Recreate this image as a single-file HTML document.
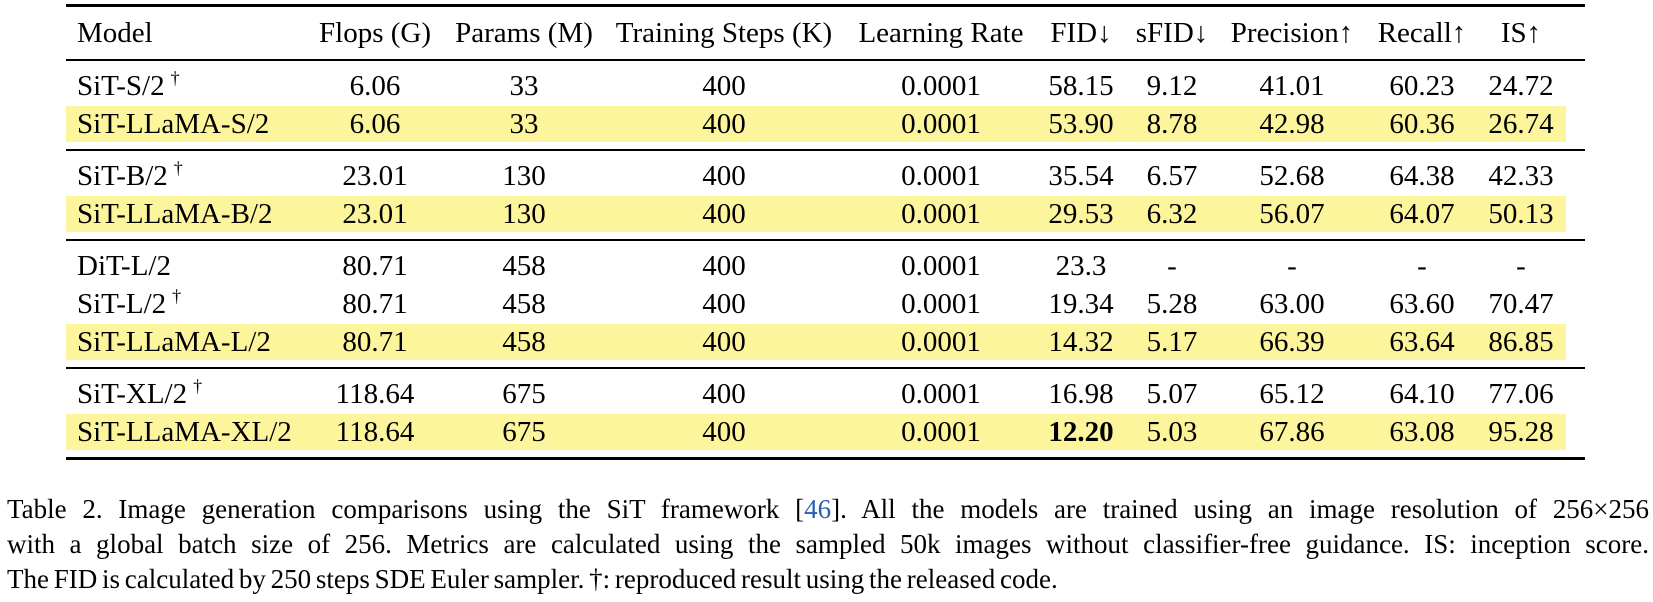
<!DOCTYPE html>
<html><head><meta charset="utf-8">
<style>
body{margin:0;background:#fff;}
#root{position:relative;width:1653px;height:602px;overflow:hidden;font-family:"Liberation Serif",serif;color:#000;}
.rule{position:absolute;left:66px;width:1519px;background:#000;}
.hl{position:absolute;left:66px;width:1500px;height:36px;background:#fdf59c;}
.c{position:absolute;font-size:29px;line-height:36px;height:36px;white-space:nowrap;transform:translateX(-50%);}
.l{position:absolute;font-size:29px;line-height:36px;height:36px;white-space:nowrap;}
sup{font-size:18px;vertical-align:0;position:relative;top:-11px;margin-left:6px;}
.cap{position:absolute;left:7px;width:1642px;font-size:27px;line-height:35px;white-space:nowrap;word-spacing:-2px;}
.j{text-align:justify;text-align-last:justify;white-space:normal;height:35px;overflow:hidden;}
.link{color:#2a5db0;}
</style></head>
<body>
<div id="root">
<div class="rule" style="top:4px;height:2.5px"></div>
<div class="rule" style="top:59px;height:2px"></div>
<div class="rule" style="top:149px;height:2px"></div>
<div class="rule" style="top:239px;height:2px"></div>
<div class="rule" style="top:367px;height:2px"></div>
<div class="rule" style="top:457px;height:2.5px"></div>
<div id="body"></div>
<div class="cap j" style="top:492px">Table 2. Image generation comparisons using the SiT framework [<span class="link">46</span>]. All the models are trained using an image resolution of 256×256</div>
<div class="cap j" style="top:527px">with a global batch size of 256. Metrics are calculated using the sampled 50k images without classifier-free guidance. IS: inception score.</div>
<div class="cap" style="top:562px">The FID is calculated by 250 steps SDE Euler sampler. †: reproduced result using the released code.</div>
</div>
<script>
const headers=["Flops (G)","Params (M)","Training Steps (K)","Learning Rate","FID↓","sFID↓","Precision↑","Recall↑","IS↑"];
const colX=[375,524,724,941,1081,1172,1292,1422,1521];
const models=["SiT-S/2","SiT-LLaMA-S/2","SiT-B/2","SiT-LLaMA-B/2","DiT-L/2","SiT-L/2","SiT-LLaMA-L/2","SiT-XL/2","SiT-LLaMA-XL/2"];
const dagger=[1,0,1,0,0,1,0,1,0];
const highlight=[0,1,0,1,0,0,1,0,1];
const rowY=[86,124,176,214,266,304,342,394,432];
const values=[
["6.06","33","400","0.0001","58.15","9.12","41.01","60.23","24.72"],
["6.06","33","400","0.0001","53.90","8.78","42.98","60.36","26.74"],
["23.01","130","400","0.0001","35.54","6.57","52.68","64.38","42.33"],
["23.01","130","400","0.0001","29.53","6.32","56.07","64.07","50.13"],
["80.71","458","400","0.0001","23.3","-","-","-","-"],
["80.71","458","400","0.0001","19.34","5.28","63.00","63.60","70.47"],
["80.71","458","400","0.0001","14.32","5.17","66.39","63.64","86.85"],
["118.64","675","400","0.0001","16.98","5.07","65.12","64.10","77.06"],
["118.64","675","400","0.0001","12.20","5.03","67.86","63.08","95.28"]];
const root=document.getElementById('body');
function mk(cls,txt,x,y){const d=document.createElement('div');d.className=cls;d.textContent=txt;d.style.left=x+'px';d.style.top=(y-18)+'px';root.appendChild(d);return d;}
let h=mk('l','Model',77,33);


headers.forEach((t,i)=>{const e=mk('c',t,colX[i],33);

});
models.forEach((m,r)=>{
 if(highlight[r]){const b=document.createElement('div');b.className='hl';b.style.top=(rowY[r]-18)+'px';
 
 
 root.appendChild(b);}
 const n=mk('l',m,77,rowY[r]);
 
 
 if(dagger[r]){const s=document.createElement('sup');s.textContent='†';n.appendChild(s);}
 values[r].forEach((v,i)=>{const e=mk('c',v,colX[i],rowY[r]);
 
 
 if(v==="12.20")e.style.fontWeight='bold';});
});
</script>
</body></html>
